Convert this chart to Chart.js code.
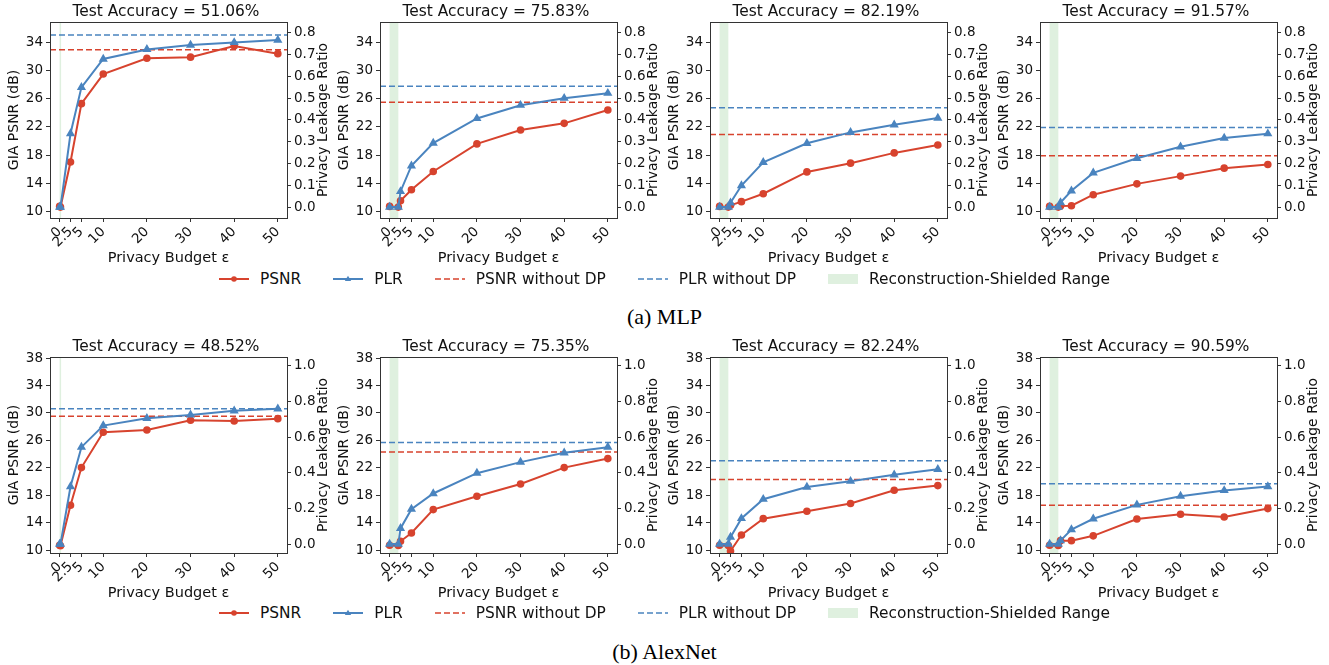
<!DOCTYPE html>
<html>
<head>
<meta charset="utf-8">
<script src="https://cdn.jsdelivr.net/npm/chart.js@4.4.1/dist/chart.umd.min.js"></script>
<style>
  body { margin: 0; background: #fff; width: 1329px; height: 665px; position: relative; overflow: hidden;
         font-family: "DejaVu Sans", sans-serif; }
  canvas { position: absolute; }
  .legend { position: absolute; left: 0; width: 1329px; height: 20px; display: flex;
            justify-content: center; align-items: center; font-size: 15.4px; color: #111; }
  .item { display: flex; align-items: center; margin: 0 16px; white-space: nowrap; }
  .item svg { margin-right: 11px; }
  .caption { position: absolute; left: 0; width: 1329px; text-align: center; line-height: 25px;
             font-family: "Liberation Serif", serif; font-size: 22px; color: #000; }
</style>
</head>
<body>
<canvas id="c0"></canvas><canvas id="c1"></canvas><canvas id="c2"></canvas><canvas id="c3"></canvas>
<canvas id="c4"></canvas><canvas id="c5"></canvas><canvas id="c6"></canvas><canvas id="c7"></canvas>
<div class="legend" id="legTop" style="top:269px"></div>
<div class="caption" style="top:304px">(a) MLP</div>
<div class="legend" id="legBot" style="top:603px"></div>
<div class="caption" style="top:639px">(b) AlexNet</div>
<script>
"use strict";

// ── 數據 ──
const EPS_THIN = [0, 0.2, 2.5, 5, 10, 20, 30, 40, 50];   // 第一欄：遮蔽區很窄
const EPS = [0, 2, 2.5, 5, 10, 20, 30, 40, 50];
const X_TICKS = [0, 2.5, 5, 10, 20, 30, 40, 50];

const MLP_ACC = ["51.06", "75.83", "82.19", "91.57"];
const MLP_SHIELD = [0.2, 2, 2, 2];
const MLP_PSNR = [
  [10.7, 10.6, 17.0, 25.3, 29.5, 31.75, 31.9, 33.5, 32.4],
  [10.7, 10.6, 11.5, 13.07, 15.66, 19.58, 21.56, 22.5, 24.39],
  [10.7, 10.6, 10.85, 11.37, 12.5, 15.6, 16.84, 18.3, 19.43],
  [10.7, 10.6, 10.75, 10.8, 12.36, 13.9, 15.0, 16.13, 16.65],
];
const MLP_PLR = [
  [0, 0, 0.338, 0.55, 0.68, 0.724, 0.744, 0.756, 0.767],
  [0, 0, 0.072, 0.19, 0.294, 0.407, 0.468, 0.5, 0.523],
  [0, 0, 0.02, 0.099, 0.206, 0.293, 0.343, 0.378, 0.409],
  [0, 0, 0.021, 0.075, 0.157, 0.224, 0.277, 0.317, 0.337],
];
const MLP_PSNR_NODP = [32.95, 25.5, 20.9, 17.9];
const MLP_PLR_NODP = [0.79, 0.555, 0.456, 0.366];

const ALEX_ACC = ["48.52", "75.35", "82.24", "90.59"];
const ALEX_SHIELD = [0.2, 2, 2, 2];
const ALEX_PSNR = [
  [10.73, 10.65, 16.55, 22.04, 27.18, 27.52, 28.93, 28.83, 29.17],
  [10.73, 10.7, 11.3, 12.52, 15.92, 17.86, 19.66, 22.04, 23.35],
  [10.73, 10.7, 9.9, 12.23, 14.6, 15.68, 16.8, 18.74, 19.42],
  [10.73, 10.7, 11.4, 11.4, 12.1, 14.56, 15.24, 14.85, 16.07],
];
const ALEX_PLR = [
  [0, 0, 0.323, 0.544, 0.665, 0.706, 0.725, 0.748, 0.759],
  [0, 0, 0.088, 0.196, 0.284, 0.398, 0.46, 0.512, 0.544],
  [0, 0, 0.039, 0.144, 0.252, 0.32, 0.353, 0.389, 0.42],
  [0, 0, 0.02, 0.082, 0.142, 0.22, 0.269, 0.301, 0.323],
];
const ALEX_PSNR_NODP = [29.5, 24.3, 20.3, 16.55];
const ALEX_PLR_NODP = [0.76, 0.57, 0.467, 0.338];

const MLP_PSNR_TICKS = [10, 14, 18, 22, 26, 30, 34];
const MLP_PLR_TICKS = [0, 0.1, 0.2, 0.3, 0.4, 0.5, 0.6, 0.7, 0.8];
const ALEX_PSNR_TICKS = [10, 14, 18, 22, 26, 30, 34, 38];
const ALEX_PLR_TICKS = [0, 0.2, 0.4, 0.6, 0.8, 1.0];

const X_MIN = -2.2, X_MAX = 52.1;
const C = { red: "#d7432e", blue: "#4a84bf", shield: "rgba(76,170,76,0.18)", axis: "#333" };
const FONT = "DejaVu Sans";

// ── 外掛：遮蔽區、外框、右軸標題 ──
const shieldPlugin = {
  id: "shield",
  beforeDatasetsDraw(chart, args, opts) {
    const { ctx, chartArea: a, scales: { x } } = chart;
    const x0 = x.getPixelForValue(0), x1 = x.getPixelForValue(opts.end);
    ctx.save();
    ctx.fillStyle = C.shield;
    ctx.fillRect(x0, a.top, Math.max(x1 - x0, 1.5), a.bottom - a.top);
    ctx.restore();
  },
};
const framePlugin = {
  id: "frame",
  afterDraw(chart) {
    const { ctx, chartArea: a } = chart;
    ctx.save();
    ctx.strokeStyle = C.axis;
    ctx.lineWidth = 1;
    ctx.strokeRect(Math.round(a.left) + 0.5, Math.round(a.top) + 0.5,
                   Math.round(a.right - a.left), Math.round(a.bottom - a.top));
    const s = chart.scales.y1;
    ctx.translate(s.left + 36, (s.top + s.bottom) / 2);
    ctx.rotate(-Math.PI / 2);
    ctx.fillStyle = "#111";
    ctx.font = `14px "${FONT}"`;
    ctx.textAlign = "center";
    ctx.textBaseline = "middle";
    ctx.fillText("Privacy Leakage Ratio", 0, 0);
    ctx.restore();
  },
};

function axisCommon(ticks, fmt, extra) {
  return {
    afterBuildTicks: (s) => { s.ticks = ticks.map((v) => ({ value: v })); },
    ticks: { autoSkip: false, color: "#111", font: { family: FONT, size: 13.5 }, padding: 3,
             callback: fmt, ...extra },
    grid: { drawOnChartArea: false, tickLength: 4, color: C.axis },
    border: { display: false },
  };
}

function makePanel(id, left, top, p) {
  const cv = document.getElementById(id);
  cv.width = 332; cv.height = 268;
  cv.style.left = left + "px"; cv.style.top = top + "px";
  const line = (v) => [{ x: X_MIN, y: v }, { x: X_MAX, y: v }];
  new Chart(cv, {
    type: "line",
    data: {
      datasets: [
        { data: p.eps.map((x, i) => ({ x, y: p.plr[i] })), yAxisID: "y1", order: 1,
          borderColor: C.blue, backgroundColor: C.blue, borderWidth: 2,
          pointStyle: "triangle", pointRadius: 3.3 },
        { data: p.eps.map((x, i) => ({ x, y: p.psnr[i] })), yAxisID: "y", order: 2,
          borderColor: C.red, backgroundColor: C.red, borderWidth: 2,
          pointStyle: "circle", pointRadius: 2.8 },
        { data: line(p.psnrNoDp), yAxisID: "y", order: 3, borderColor: C.red,
          borderWidth: 1.5, borderDash: [6, 3], pointRadius: 0 },
        { data: line(p.plrNoDp), yAxisID: "y1", order: 4, borderColor: C.blue,
          borderWidth: 1.5, borderDash: [6, 3], pointRadius: 0 },
      ],
    },
    options: {
      responsive: false, animation: false, devicePixelRatio: 1,
      layout: { padding: 0 },
      events: [],
      plugins: {
        legend: { display: false }, tooltip: { enabled: false },
        title: { display: true, text: `Test Accuracy = ${p.acc}%`, color: "#111",
                 font: { family: FONT, size: 15.4, weight: "normal", lineHeight: 1.2 },
                 padding: { top: 2.4, bottom: 1.1 } },
        shield: { end: p.shield },
      },
      scales: {
        x: { type: "linear", min: X_MIN, max: X_MAX,
             ...axisCommon(X_TICKS, (v) => String(v), { minRotation: 45, maxRotation: 45, padding: 2 }),
             afterFit: (s) => { s.height = 50; },
             title: { display: true, text: "Privacy Budget ε", color: "#111",
                      font: { family: FONT, size: 14.5 }, padding: { top: 0, bottom: 1.4 } } },
        y: { type: "linear", position: "left", min: p.yMin, max: p.yMax,
             ...axisCommon(p.psnrTicks, (v) => String(v)),
             afterFit: (s) => { s.width = 50; },
             title: { display: true, text: "GIA PSNR (dB)", color: "#111",
                      font: { family: FONT, size: 14 }, padding: { top: 6, bottom: 0 } } },
        y1: { type: "linear", position: "right", min: p.y1Min, max: p.y1Max,
              ...axisCommon(p.plrTicks, (v) => v.toFixed(1)),
              afterFit: (s) => { s.width = 45; } },
      },
    },
    plugins: [shieldPlugin, framePlugin],
  });
}

const COL_LEFT = [0, 330, 660, 990];
for (let i = 0; i < 4; i++) {
  makePanel("c" + i, COL_LEFT[i], 0, {
    eps: i === 0 ? EPS_THIN : EPS, psnr: MLP_PSNR[i], plr: MLP_PLR[i],
    psnrNoDp: MLP_PSNR_NODP[i], plrNoDp: MLP_PLR_NODP[i], acc: MLP_ACC[i], shield: MLP_SHIELD[i],
    yMin: 9.05, yMax: 36.9, y1Min: -0.05, y1Max: 0.85,
    psnrTicks: MLP_PSNR_TICKS, plrTicks: MLP_PLR_TICKS,
  });
  makePanel("c" + (i + 4), COL_LEFT[i], 335, {
    eps: i === 0 ? EPS_THIN : EPS, psnr: ALEX_PSNR[i], plr: ALEX_PLR[i],
    psnrNoDp: ALEX_PSNR_NODP[i], plrNoDp: ALEX_PLR_NODP[i], acc: ALEX_ACC[i], shield: ALEX_SHIELD[i],
    yMin: 9.6, yMax: 38.15, y1Min: -0.05, y1Max: 1.05,
    psnrTicks: ALEX_PSNR_TICKS, plrTicks: ALEX_PLR_TICKS,
  });
}

// ── 圖例（HTML）──
const LEGEND = [
  { label: "PSNR", kind: "marker", color: C.red, marker: "circle" },
  { label: "PLR", kind: "marker", color: C.blue, marker: "triangle" },
  { label: "PSNR without DP", kind: "dash", color: C.red },
  { label: "PLR without DP", kind: "dash", color: C.blue },
  { label: "Reconstruction-Shielded Range", kind: "patch", color: C.shield },
];
function handleSvg(e) {
  let inner = "";
  if (e.kind === "marker") {
    inner = `<line x1="0" y1="8" x2="30" y2="8" stroke="${e.color}" stroke-width="2"/>` +
      (e.marker === "circle"
        ? `<circle cx="15" cy="8" r="2.8" fill="${e.color}"/>`
        : `<polygon points="15,4.7 18.2,10 11.8,10" fill="${e.color}"/>`);
  } else if (e.kind === "dash") {
    inner = `<line x1="0" y1="8" x2="30" y2="8" stroke="${e.color}" stroke-width="1.5" stroke-dasharray="6,3"/>`;
  } else {
    inner = `<rect x="0" y="3" width="30" height="10" fill="${e.color}"/>`;
  }
  return `<svg width="30" height="16">${inner}</svg>`;
}
const legHtml = LEGEND.map((e) => `<div class="item">${handleSvg(e)}<span>${e.label}</span></div>`).join("");
document.getElementById("legTop").innerHTML = legHtml;
document.getElementById("legBot").innerHTML = legHtml;
</script>
</body>
</html>
